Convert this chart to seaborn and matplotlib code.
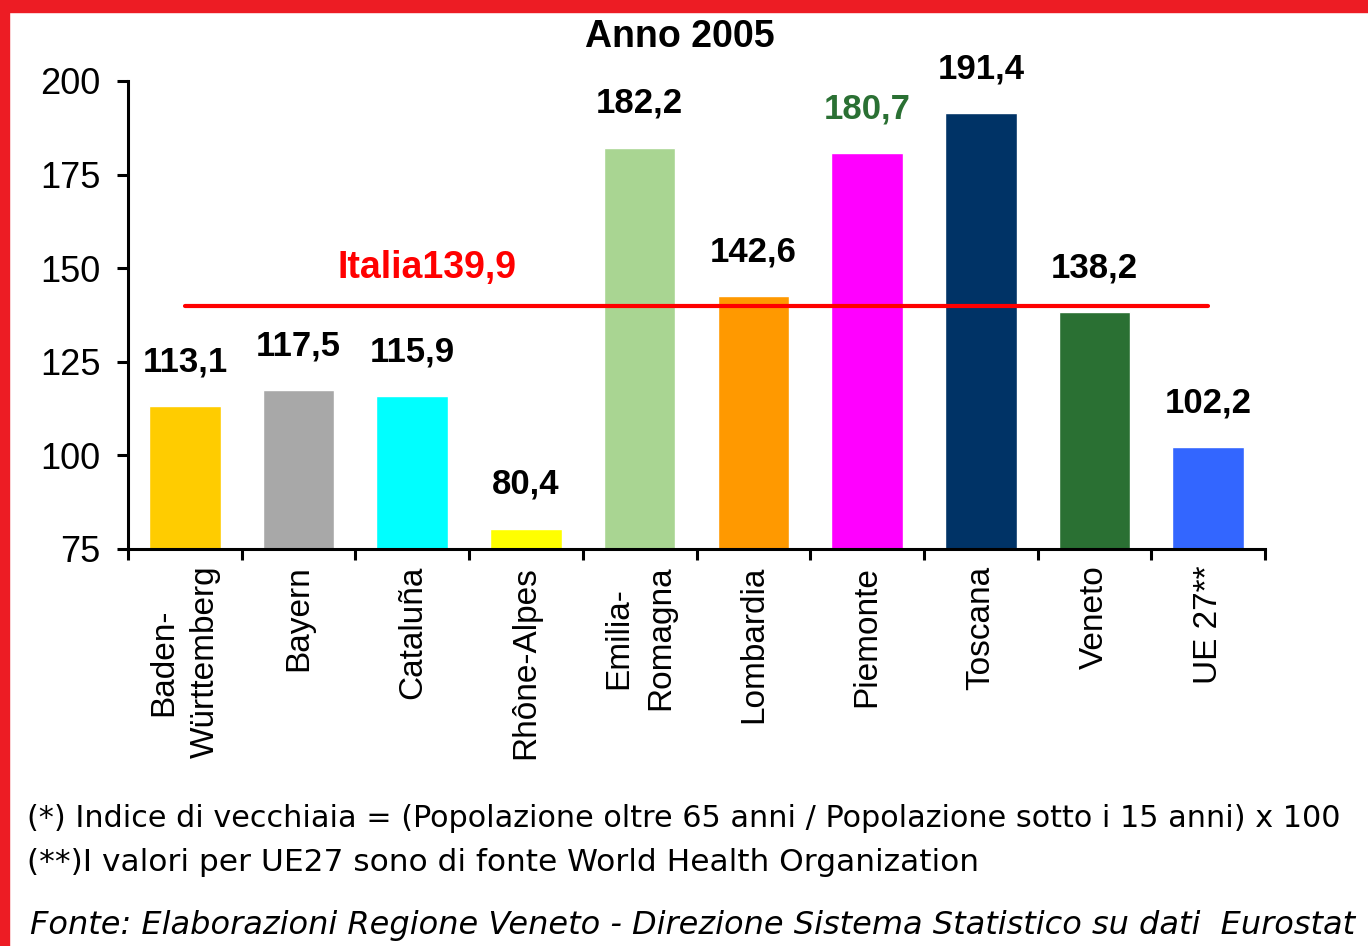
import numpy as np
import pandas as pd
import matplotlib
matplotlib.use("Agg")
import matplotlib.pyplot as plt
import seaborn as sns
from matplotlib.patches import Rectangle

# data
regions = ['Baden-\nWürttemberg', 'Bayern', 'Cataluña', 'Rhône-Alpes', 'Emilia-\nRomagna',
           'Lombardia', 'Piemonte', 'Toscana', 'Veneto', 'UE 27**']
values = [113.1, 117.5, 115.9, 80.4, 182.2, 142.6, 180.7, 191.4, 138.2, 102.2]
bar_colors = ['#FFCC00', '#A8A8A8', '#00FFFF', '#FFFF00', '#A9D592',
              '#FF9900', '#FF00FF', '#003366', '#2A7033', '#3366FF']
italia = 139.9
y_ticks = [75, 100, 125, 150, 175, 200]

sns.set_theme(style="white")
plt.rcParams['font.family'] = ['Liberation Sans', 'DejaVu Sans']
plt.rcParams['text.color'] = 'black'
plt.rcParams['xtick.color'] = 'black'
plt.rcParams['ytick.color'] = 'black'

df = pd.DataFrame({'regione': regions, 'indice': values})

fig = plt.figure(figsize=(13.68, 9.46), dpi=100)
fig.patch.set_facecolor('white')
ax = fig.add_axes([0.0936, 0.4197, 0.8311, 0.4947])

sns.barplot(data=df, x='regione', y='indice', hue='regione', palette=bar_colors,
            legend=False, width=0.63, saturation=1, ax=ax, bottom=0)

ax.set_ylim(75, 200)
ax.set_xlim(-0.5, len(regions) - 0.5)
ax.set_yticks(y_ticks)
ax.set_yticklabels([str(t) for t in y_ticks], fontsize=26)
ax.set_xlabel('')
ax.set_ylabel('')

# category ticks: labels at centres, marks at the boundaries
ax.set_xticks(range(len(regions)))
ax.set_xticklabels(regions, rotation=90, fontsize=24, ha='center', va='top',
                   multialignment='center')
for lab in ax.get_xticklabels():
    lab.set_linespacing(1.45)
ax.set_xticks(np.arange(-0.5, len(regions), 1.0), minor=True)
ax.tick_params(axis='x', which='major', length=0, pad=12)
ax.tick_params(axis='x', which='minor', length=8, width=2.2, color='black', bottom=True)
ax.tick_params(axis='y', length=8, width=2.2, color='black', left=True, pad=12)

for s in ['top', 'right']:
    ax.spines[s].set_visible(False)
for s in ['left', 'bottom']:
    ax.spines[s].set_color('black')
    ax.spines[s].set_linewidth(2.2)

# value labels
for i, v in enumerate(values):
    col = '#2A7033' if regions[i] == 'Piemonte' else 'black'
    ax.annotate(f"{v:.1f}".replace('.', ','), (i, v), xytext=(0, 20),
                textcoords='offset points', ha='center', va='bottom',
                fontsize=25, fontweight='bold', color=col, annotation_clip=False)

# Italia reference line
ax.plot([0, len(regions) - 1.0], [italia, italia], color='#FF0000', lw=3, zorder=5)
ax.text(2.13, 150, 'Italia' + f"{italia:.1f}".replace('.', ','), color='#FF0000',
        fontsize=27, fontweight='bold', ha='center', va='center')

fig.text(0.497, 0.961, 'Anno 2005', ha='center', va='center', fontsize=27, fontweight='bold')

note_font = ['DejaVu Sans']
fig.text(0.02, 0.135, '(*) Indice di vecchiaia = (Popolazione oltre 65 anni / Popolazione sotto i 15 anni) x 100',
         fontsize=21.8, ha='left', va='center', family=note_font)
fig.text(0.02, 0.088, '(**)I valori per UE27 sono di fonte World Health Organization',
         fontsize=22.5, ha='left', va='center', family=note_font)
fig.text(0.022, 0.022, 'Fonte: Elaborazioni Regione Veneto - Direzione Sistema Statistico su dati  Eurostat',
         fontsize=23, ha='left', va='center', style='italic', family=note_font)

# red frame on top and left edge
fig.add_artist(Rectangle((0, 1 - 12 / 946), 1, 12 / 946, transform=fig.transFigure,
                         color='#ED1C24', zorder=10))
fig.add_artist(Rectangle((0, 0), 9 / 1368, 1, transform=fig.transFigure,
                         color='#ED1C24', zorder=10))

fig.savefig('out.png', dpi=100)
